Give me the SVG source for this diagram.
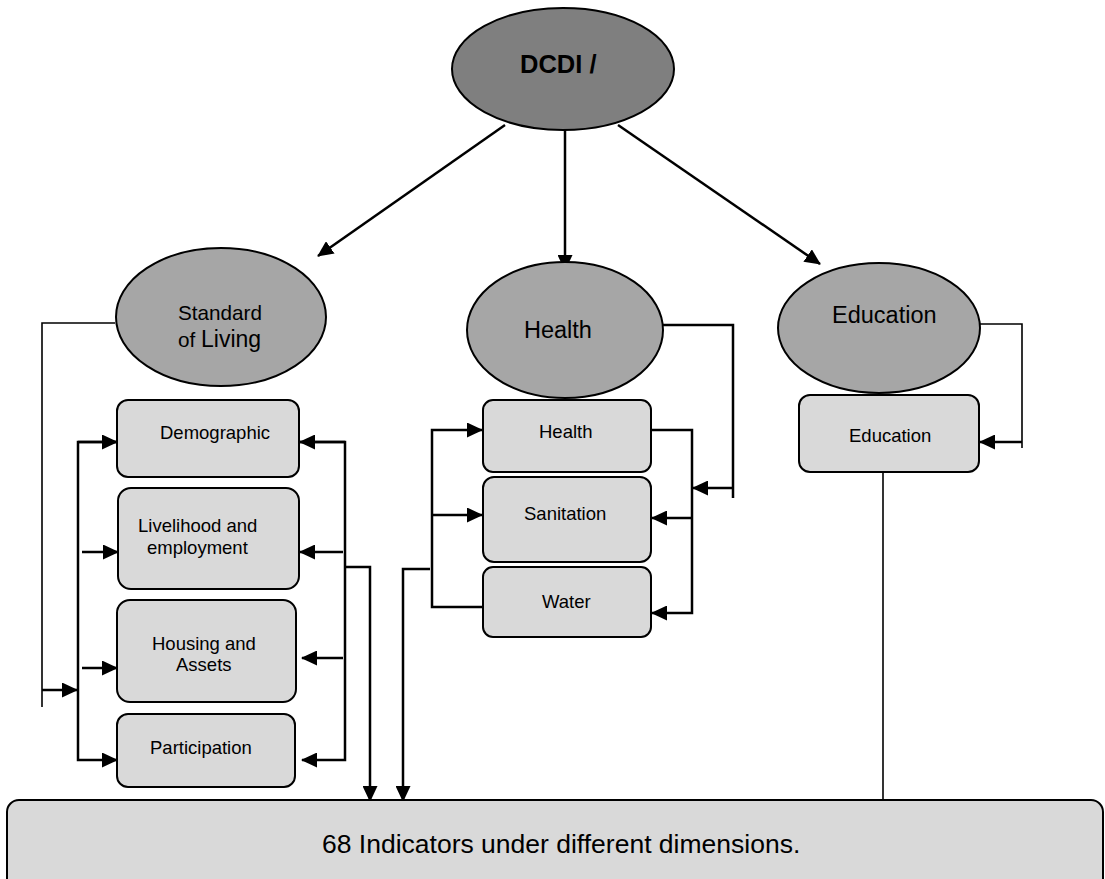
<svg xmlns="http://www.w3.org/2000/svg" width="1105" height="879" viewBox="0 0 1105 879">
<style>
.ell{fill:#a6a6a6;stroke:#000;stroke-width:2}
.top{fill:#7f7f7f;stroke:#000;stroke-width:2}
.box{fill:#d9d9d9;stroke:#000;stroke-width:2}
.t{font-family:"Liberation Sans",Arial,sans-serif;fill:#000}
.s{font-size:18.5px}
.l{font-size:23.5px}
.c{fill:none;stroke:#000;stroke-width:2.5}
.th{fill:none;stroke:#000;stroke-width:1.6}
.a{marker-end:url(#ah)}
</style>
<defs>
<marker id="ah" markerUnits="userSpaceOnUse" markerWidth="16" markerHeight="15" refX="15" refY="7.5" orient="auto">
<path d="M0,0 L16,7.5 L0,15 z" fill="#000"/>
</marker>
</defs>
<g id="connectors">
<line class="c a" x1="505" y1="125" x2="318" y2="256"/>
<line class="c a" x1="565" y1="130" x2="565" y2="270"/>
<line class="c a" x1="618" y1="125" x2="820" y2="264"/>
<polyline class="th" points="115,323 42,323 42,707"/>
<line class="c a" x1="42" y1="690" x2="77" y2="690"/>
<polyline class="c a" points="116,442 78,442 78,760 117,760"/>
<line class="c a" x1="78" y1="442" x2="117" y2="442"/>
<line class="c a" x1="82" y1="552" x2="118" y2="552"/>
<line class="c a" x1="82" y1="668" x2="117" y2="668"/>
<polyline class="c a" points="300,442 345,442 345,760 302,760"/>
<line class="c a" x1="345" y1="442" x2="300" y2="442"/>
<line class="c a" x1="343" y1="552" x2="300" y2="552"/>
<line class="c a" x1="343" y1="658" x2="302" y2="658"/>
<polyline class="c a" points="345,567 370,567 370,801"/>
<polyline class="c a" points="482,607 432,607 432,430 482,430"/>
<line class="c a" x1="432" y1="515" x2="482" y2="515"/>
<polyline class="c a" points="430,569 403,569 403,801"/>
<polyline class="c" points="663,325 733,325 733,498"/>
<line class="c a" x1="733" y1="488" x2="693" y2="488"/>
<polyline class="c a" points="652,430 692,430 692,613 652,613"/>
<line class="c a" x1="692" y1="518" x2="652" y2="518"/>
<polyline class="th" points="980,324 1022,324 1022,448"/>
<line class="c a" x1="1022" y1="442" x2="980" y2="442"/>
<line class="th" x1="883" y1="472" x2="883" y2="800"/>
</g>
<g id="dcdi">
<ellipse class="top" cx="563" cy="69" rx="111" ry="61"/>
<text class="t" x="520" y="73" font-size="25.5" font-weight="bold">DCDI /</text>
</g>
<g id="standard-of-living">
<ellipse class="ell" cx="221" cy="317" rx="105" ry="69"/>
<text class="t" x="178" y="320" font-size="20.7">Standard</text>
<text class="t" x="178" y="347"><tspan font-size="20.7">of </tspan><tspan font-size="23">Living</tspan></text>
</g>
<g id="health">
<ellipse class="ell" cx="565" cy="330" rx="98" ry="68"/>
<text class="t l" x="524" y="338">Health</text>
</g>
<g id="education">
<ellipse class="ell" cx="879" cy="328" rx="101" ry="65"/>
<text class="t l" x="832" y="323">Education</text>
</g>
<g id="demographic">
<rect class="box" x="117" y="400" width="182" height="77" rx="11"/>
<text class="t s" x="160" y="439">Demographic</text>
</g>
<g id="livelihood">
<rect class="box" x="118" y="488" width="181" height="101" rx="13"/>
<text class="t s" x="138" y="532">Livelihood and</text>
<text class="t s" x="147" y="554">employment</text>
</g>
<g id="housing">
<rect class="box" x="117" y="600" width="179" height="102" rx="13"/>
<text class="t s" x="152" y="650">Housing and</text>
<text class="t s" x="176" y="671">Assets</text>
</g>
<g id="participation">
<rect class="box" x="117" y="714" width="178" height="73" rx="11"/>
<text class="t s" x="150" y="754">Participation</text>
</g>
<g id="health-box">
<rect class="box" x="483" y="400" width="168" height="72" rx="10"/>
<text class="t s" x="539" y="438">Health</text>
</g>
<g id="sanitation">
<rect class="box" x="483" y="477" width="168" height="85" rx="11"/>
<text class="t s" x="524" y="520">Sanitation</text>
</g>
<g id="water">
<rect class="box" x="483" y="567" width="168" height="70" rx="10"/>
<text class="t s" x="542" y="608">Water</text>
</g>
<g id="education-box">
<rect class="box" x="799" y="395" width="180" height="77" rx="11"/>
<text class="t s" x="849" y="442">Education</text>
</g>
<g id="indicators">
<rect class="box" x="7" y="800" width="1096" height="90" rx="12"/>
<text class="t" x="322" y="853" font-size="26.5">68 Indicators under different dimensions.</text>
</g>
</svg>
